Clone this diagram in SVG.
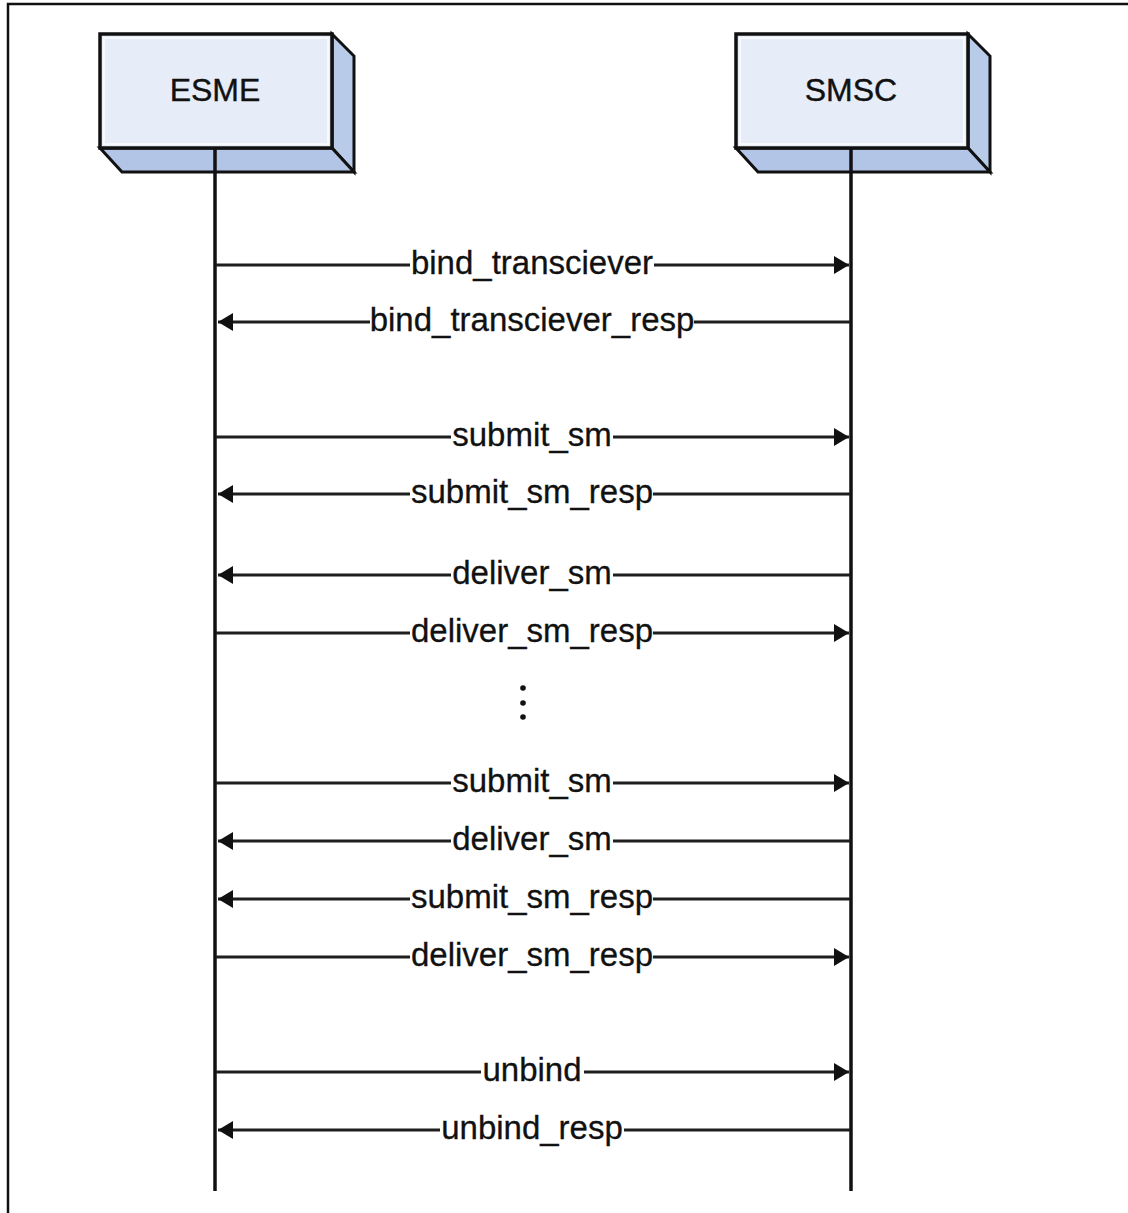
<svg xmlns="http://www.w3.org/2000/svg" width="1128" height="1213" viewBox="0 0 1128 1213">
<defs>
<style>
.front{fill:#e7edf8;stroke:#111;stroke-width:3.5}
.inner{fill:none;stroke:#f7f9fd;stroke-width:2}
.side{fill:#b8cbe9;stroke:#111;stroke-width:3;stroke-linejoin:miter}
.bottom{fill:#b2c5e6;stroke:#111;stroke-width:3}
.title{font-family:"Liberation Sans",Arial,sans-serif;font-size:32px;fill:#111;text-anchor:middle;stroke:#111;stroke-width:0.4}
.life{stroke:#111;stroke-width:3.5}
.msg{stroke:#1e1e1e;stroke-width:3.2;fill:none}
.lbl{font-family:"Liberation Sans",Arial,sans-serif;font-size:33px;fill:#111;text-anchor:middle;stroke:#111;stroke-width:0.3}
.bg{fill:#fff}
</style>
<marker id="ah" viewBox="0 0 15 18" refX="15" refY="9" markerWidth="15" markerHeight="18" markerUnits="userSpaceOnUse" orient="auto">
<path d="M0,0 L15,9 L0,18 Z" fill="#111"/>
</marker>
</defs>
<rect x="0" y="0" width="1128" height="1213" fill="#fff"/>
<path d="M8,1213 V4 H1128" fill="none" stroke="#111" stroke-width="2.5"/>

<g id="esme">
<polygon class="side" points="332,34 354,56 354,172 332,148"/>
<polygon class="bottom" points="100,148 332,148 354,172 122,172"/>
<rect class="front" x="100" y="34" width="232" height="114"/>
<rect class="inner" x="104" y="38" width="224" height="106"/>
<text class="title" x="215" y="101">ESME</text>
</g>

<g id="smsc">
<polygon class="side" points="968,34 990,56 990,172 968,148"/>
<polygon class="bottom" points="736,148 968,148 990,172 758,172"/>
<rect class="front" x="736" y="34" width="232" height="114"/>
<rect class="inner" x="740" y="38" width="224" height="106"/>
<text class="title" x="851" y="101">SMSC</text>
</g>

<g id="lifelines">
<line class="life" x1="215" y1="149" x2="215" y2="1191"/>
<line class="life" x1="851" y1="149" x2="851" y2="1191"/>
</g>

<g id="connectors">
<line class="msg" x1="216" y1="265" x2="849" y2="265" marker-end="url(#ah)"/>
<line class="msg" x1="850" y1="322" x2="218" y2="322" marker-end="url(#ah)"/>
<line class="msg" x1="216" y1="437" x2="849" y2="437" marker-end="url(#ah)"/>
<line class="msg" x1="850" y1="494" x2="218" y2="494" marker-end="url(#ah)"/>
<line class="msg" x1="850" y1="575" x2="218" y2="575" marker-end="url(#ah)"/>
<line class="msg" x1="216" y1="633" x2="849" y2="633" marker-end="url(#ah)"/>
<line class="msg" x1="216" y1="783" x2="849" y2="783" marker-end="url(#ah)"/>
<line class="msg" x1="850" y1="841" x2="218" y2="841" marker-end="url(#ah)"/>
<line class="msg" x1="850" y1="899" x2="218" y2="899" marker-end="url(#ah)"/>
<line class="msg" x1="216" y1="957" x2="849" y2="957" marker-end="url(#ah)"/>
<line class="msg" x1="216" y1="1072" x2="849" y2="1072" marker-end="url(#ah)"/>
<line class="msg" x1="850" y1="1130" x2="218" y2="1130" marker-end="url(#ah)"/>
</g>

<g id="labels">
<rect class="bg" x="410" y="247" width="244" height="36"/>
<text class="lbl" x="532" y="274">bind_transciever</text>
<rect class="bg" x="370" y="304" width="324" height="36"/>
<text class="lbl" x="532" y="331">bind_transciever_resp</text>
<rect class="bg" x="451" y="419" width="162" height="36"/>
<text class="lbl" x="532" y="446">submit_sm</text>
<rect class="bg" x="410" y="476" width="243" height="36"/>
<text class="lbl" x="532" y="503">submit_sm_resp</text>
<rect class="bg" x="451" y="557" width="162" height="36"/>
<text class="lbl" x="532" y="584">deliver_sm</text>
<rect class="bg" x="410" y="615" width="243" height="36"/>
<text class="lbl" x="532" y="642">deliver_sm_resp</text>
<rect class="bg" x="451" y="765" width="162" height="36"/>
<text class="lbl" x="532" y="792">submit_sm</text>
<rect class="bg" x="451" y="823" width="162" height="36"/>
<text class="lbl" x="532" y="850">deliver_sm</text>
<rect class="bg" x="410" y="881" width="243" height="36"/>
<text class="lbl" x="532" y="908">submit_sm_resp</text>
<rect class="bg" x="410" y="939" width="243" height="36"/>
<text class="lbl" x="532" y="966">deliver_sm_resp</text>
<rect class="bg" x="481" y="1054" width="103" height="36"/>
<text class="lbl" x="532" y="1081">unbind</text>
<rect class="bg" x="440" y="1112" width="184" height="36"/>
<text class="lbl" x="532" y="1139">unbind_resp</text>
</g>

<g id="ellipsis" fill="#111">
<circle cx="523" cy="688" r="2.8"/>
<circle cx="523" cy="703" r="2.8"/>
<circle cx="523" cy="717" r="2.8"/>
</g>
</svg>
